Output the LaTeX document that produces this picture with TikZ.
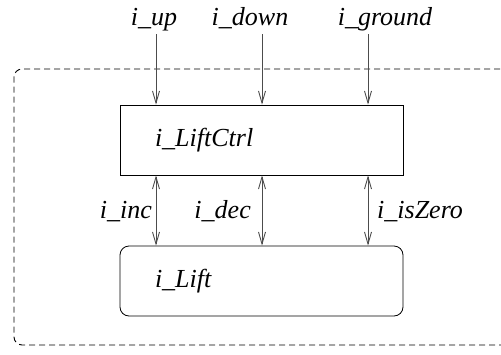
\documentclass[tikz,border=0pt]{standalone}
\usepackage{fontspec}
\setmainfont{Liberation Serif}
\usepackage{tikz}
\usetikzlibrary{arrows.meta}
\tikzstyle{block} = [rectangle, draw=black, line width=0.8pt, minimum width=283pt, minimum height=70pt, text width=213pt, inner xsep=35pt, align=left]
\tikzstyle{roundblock} = [block, rounded corners=9pt]
\tikzstyle{sig} = [draw=black!70, line width=0.9pt, -{Straight Barb[length=12pt,width=7pt]}]
\tikzstyle{bisig} = [sig, {Straight Barb[length=12pt,width=7pt]}-{Straight Barb[length=12pt,width=7pt]}]
\tikzstyle{frame} = [draw=black, line width=0.9pt, dash pattern=on 6pt off 4pt, rounded corners=8pt]

\begin{document}
\begin{tikzpicture}[x=1pt, y=-1pt, font=\fontsize{26}{30}\selectfont\itshape, inner sep=0pt]
\useasboundingbox (0,0) rectangle (501,354);
\clip (0,0) rectangle (501,354);
\draw [frame] (540,69) -- (14,69) -- (14,345) -- (540,345);

\node (ctrl) [block] at (261.5,140) {i\_LiftCtrl};
\node (lift) [roundblock] at (261.5,281) {i\_Lift};

\coordinate (upin) at (156,34);
\coordinate (downin) at (262,34);
\coordinate (groundin) at (368,34);
\node (up) [anchor=base] at (154,25) {i\_up};
\node (down) [anchor=base] at (250,25) {i\_down};
\node (ground) [anchor=base] at (385,25) {i\_ground};

\draw [sig] (upin) -- (upin |- ctrl.north);
\draw [sig] (downin) -- (downin |- ctrl.north);
\draw [sig] (groundin) -- (groundin |- ctrl.north);

\draw [bisig] (ctrl.south -| upin) -- (lift.north -| upin);
\draw [bisig] (ctrl.south -| downin) -- (lift.north -| downin);
\draw [bisig] (ctrl.south -| groundin) -- (lift.north -| groundin);

\node (inc) [anchor=base east] at (152,218) {i\_inc};
\node (dec) [anchor=base east] at (251,218) {i\_dec};
\node (iszero) [anchor=base west] at (377,218) {i\_isZero};
\end{tikzpicture}
\end{document}
